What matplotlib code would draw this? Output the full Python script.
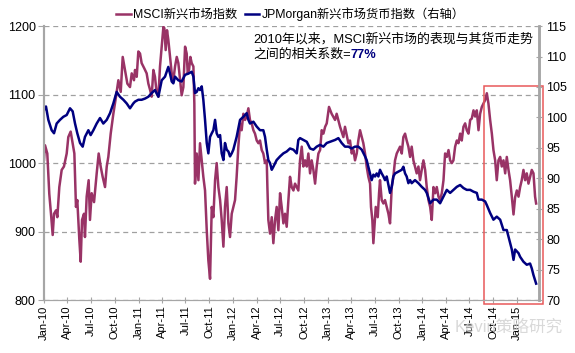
import numpy as np
import pandas as pd
import matplotlib
matplotlib.use("Agg")
import matplotlib.pyplot as plt
import matplotlib.dates as mdates
from matplotlib.patches import Rectangle

plt.rcParams["font.family"] = ["Liberation Sans", "Noto Sans CJK SC", "DejaVu Sans"]

# years since 1 Jan 2010
msci_t = [0.000, 0.011, 0.035, 0.056, 0.074, 0.092, 0.106, 0.127, 0.141, 0.162, 0.187, 0.211,
          0.240, 0.257, 0.282, 0.303, 0.321, 0.338, 0.352, 0.374, 0.388, 0.402, 0.423, 0.433,
          0.451, 0.472, 0.486, 0.504, 0.529, 0.557, 0.578, 0.599, 0.620, 0.645, 0.663, 0.680,
          0.705, 0.733, 0.761, 0.786, 0.811, 0.832, 0.856, 0.881, 0.909, 0.927, 0.951,
          0.962, 0.980, 0.997, 1.015, 1.032, 1.061, 1.085, 1.103, 1.121, 1.138, 1.156, 1.173,
          1.191, 1.209, 1.226, 1.244, 1.262, 1.272, 1.286, 1.300, 1.314, 1.332, 1.350, 1.367,
          1.385, 1.403, 1.420, 1.438, 1.455, 1.473, 1.491, 1.508, 1.519, 1.533, 1.547, 1.561,
          1.579, 1.589, 1.596, 1.614, 1.632, 1.649, 1.667, 1.684, 1.702, 1.720, 1.737, 1.755,
          1.773, 1.790, 1.808, 1.825, 1.843, 1.861, 1.878, 1.896, 1.913, 1.931, 1.949, 1.966,
          1.984, 2.001, 2.019, 2.036, 2.054, 2.072, 2.089, 2.107, 2.125, 2.142, 2.160, 2.177,
          2.195, 2.213, 2.230, 2.248, 2.266, 2.283, 2.301, 2.318, 2.336, 2.354, 2.361, 2.371,
          2.389, 2.407, 2.424, 2.442, 2.459, 2.477, 2.495, 2.512, 2.530, 2.547, 2.565, 2.583,
          2.600, 2.618, 2.636, 2.653, 2.671, 2.688, 2.706, 2.724, 2.741, 2.759, 2.777, 2.794,
          2.812, 2.829, 2.847, 2.865, 2.882, 2.900, 2.918, 2.935, 2.953, 2.971, 2.988, 3.012,
          3.040, 3.076, 3.093, 3.129, 3.164, 3.181, 3.217, 3.234, 3.252, 3.270, 3.287, 3.305,
          3.322, 3.340, 3.358, 3.375, 3.393, 3.410, 3.428, 3.446, 3.456, 3.470, 3.481, 3.492,
          3.506, 3.527, 3.541, 3.551, 3.569, 3.587, 3.604, 3.622, 3.640, 3.657, 3.675, 3.692,
          3.710, 3.728, 3.745, 3.763, 3.781, 3.798, 3.816, 3.833, 3.851, 3.869, 3.886, 3.904,
          3.921, 3.939, 3.957, 3.974, 3.992, 4.010, 4.028, 4.045, 4.063, 4.081, 4.098, 4.116,
          4.134, 4.151, 4.169, 4.186, 4.204, 4.222, 4.239, 4.257, 4.275, 4.292, 4.310, 4.327,
          4.345, 4.363, 4.380, 4.398, 4.415, 4.433, 4.451, 4.468, 4.486, 4.504, 4.521, 4.539,
          4.556, 4.574, 4.592, 4.609, 4.627, 4.644, 4.662, 4.680, 4.697, 4.715, 4.733, 4.750,
          4.768, 4.785, 4.803, 4.821, 4.838, 4.856, 4.874, 4.891, 4.909, 4.926, 4.944, 4.962,
          4.979, 4.997, 5.015, 5.032, 5.049, 5.067, 5.085, 5.102, 5.120, 5.137, 5.155, 5.173,
          5.190, 5.201]
msci_v = [1005, 1026, 1014, 955, 926, 895, 926, 931, 921, 965, 990, 995,
          1014, 1038, 1046, 1029, 1014, 936, 946, 887, 856, 917, 926, 892,
          951, 975, 917, 956, 943, 985, 1014, 995, 980, 965, 995, 1009,
          1043, 1072, 1097, 1121, 1104, 1155, 1136, 1116, 1111, 1131, 1121,
          1136, 1126, 1163, 1160, 1146, 1138, 1131, 1116, 1107, 1097, 1136, 1126,
          1102, 1097, 1141, 1170, 1199, 1197, 1165, 1194, 1180, 1155, 1131, 1121,
          1141, 1155, 1146, 1121, 1099, 1111, 1170, 1160, 1131, 1136, 1155, 1146,
          1141, 1087, 970, 1014, 975, 1029, 1004, 980, 960, 902, 858, 831,
          936, 921, 975, 1000, 965, 946, 917, 878, 936, 965, 912, 892,
          926, 936, 946, 980, 1024, 1058, 1048, 1072, 1063, 1068, 1080, 1063,
          1058, 1048, 1043, 1033, 1029, 1033, 1019, 1014, 1000, 1004, 965, 917,
          897, 921, 883, 917, 936, 902, 956, 936, 912, 926, 907, 946,
          980, 965, 960, 970, 965, 960, 1004, 1024, 995, 1004, 995, 1014,
          985, 1004, 990, 970, 995, 1014, 1019, 1048, 1043, 1053, 1058, 1082,
          1072, 1063, 1072, 1053, 1038, 1053, 1029, 1033, 1014, 1019, 1004, 1014,
          1033, 1048, 1038, 1029, 1014, 995, 980, 970, 936, 917, 883, 907,
          936, 921, 956, 975, 946, 941, 946, 936, 926, 912, 965, 980,
          1004, 1014, 1019, 1024, 1014, 1038, 1043, 1033, 1024, 1009, 1024, 1004,
          995, 985, 995, 975, 990, 1004, 990, 965, 946, 936, 917, 965,
          956, 965, 951, 946, 956, 975, 1014, 1009, 1019, 1004, 1000, 1004,
          1024, 1033, 1029, 1043, 1033, 1053, 1058, 1048, 1043, 1063, 1065, 1077,
          1068, 1077, 1048, 1072, 1082, 1087, 1092, 1102, 1087, 1063, 1043, 1019,
          1004, 975, 1004, 1009, 995, 1004, 985, 1009, 990, 975, 951, 925,
          950, 960, 951, 965, 975, 990, 975, 985, 970, 980, 990, 985,
          951, 941]

jpm_t = [0.000, 0.021, 0.046, 0.081, 0.106, 0.134, 0.169, 0.204, 0.240, 0.275, 0.303, 0.328,
         0.352, 0.381, 0.409, 0.433, 0.469, 0.493, 0.522, 0.557, 0.592, 0.627, 0.663, 0.698,
         0.733, 0.768, 0.803, 0.839, 0.874, 0.909, 0.944, 0.962, 0.997, 1.032, 1.068, 1.103,
         1.138, 1.173, 1.209, 1.244, 1.279, 1.314, 1.332, 1.350, 1.367, 1.385, 1.420, 1.455,
         1.491, 1.526, 1.561, 1.579, 1.596, 1.614, 1.632, 1.649, 1.667, 1.684, 1.702, 1.720,
         1.737, 1.755, 1.773, 1.790, 1.808, 1.825, 1.843, 1.861, 1.878, 1.896, 1.913, 1.931,
         1.949, 1.966, 1.984, 2.001, 2.036, 2.072, 2.107, 2.142, 2.160, 2.177, 2.213, 2.248,
         2.283, 2.318, 2.336, 2.354, 2.371, 2.389, 2.407, 2.424, 2.459, 2.495, 2.530, 2.565,
         2.600, 2.636, 2.671, 2.688, 2.706, 2.741, 2.777, 2.812, 2.847, 2.882, 2.918, 2.953,
         2.988, 3.023, 3.076, 3.111, 3.146, 3.181, 3.217, 3.252, 3.287, 3.322, 3.358, 3.393,
         3.410, 3.428, 3.446, 3.463, 3.481, 3.499, 3.516, 3.534, 3.551, 3.569, 3.587, 3.604,
         3.622, 3.640, 3.657, 3.675, 3.692, 3.710, 3.745, 3.781, 3.798, 3.816, 3.833, 3.851,
         3.869, 3.886, 3.921, 3.957, 3.992, 4.027, 4.045, 4.081, 4.116, 4.151, 4.186, 4.222,
         4.257, 4.292, 4.327, 4.363, 4.398, 4.433, 4.468, 4.504, 4.539, 4.574, 4.592, 4.627,
         4.662, 4.680, 4.715, 4.750, 4.785, 4.821, 4.856, 4.891, 4.909, 4.926, 4.944, 4.962,
         4.979, 5.015, 5.032, 5.067, 5.102, 5.137, 5.155, 5.173, 5.201]
jpm_v = [101.2, 101.8, 99.6, 97.9, 97.4, 99.0, 99.6, 100.1, 100.4, 101.5, 101.0, 99.0,
         97.4, 95.8, 95.2, 96.8, 97.9, 97.1, 97.9, 99.0, 99.9, 99.0, 99.6, 100.7,
         102.3, 104.2, 103.4, 102.9, 102.3, 101.5, 102.3, 102.6, 102.9, 102.9, 103.1, 103.4,
         104.0, 104.5, 103.4, 106.1, 106.7, 108.3, 107.2, 105.9, 105.6, 106.7, 106.1, 105.9,
         107.0, 107.2, 107.5, 106.7, 104.0, 104.2, 104.8, 104.5, 105.1, 102.9, 99.6, 95.8,
         94.1, 96.8, 97.4, 97.9, 99.6, 97.4, 96.8, 97.1, 94.1, 93.0, 95.8, 94.7,
         94.4, 93.6, 94.1, 94.7, 96.8, 99.6, 100.1, 100.7, 99.6, 99.0, 99.3, 98.5,
         97.9, 97.9, 96.8, 94.7, 93.0, 92.5, 91.4, 91.9, 93.0, 93.6, 94.1, 94.4,
         94.9, 94.7, 94.1, 96.3, 96.6, 96.3, 96.0, 94.9, 94.7, 95.2, 95.5, 95.2,
         95.8, 96.0, 96.3, 96.6, 95.8, 95.2, 95.2, 94.9, 95.2, 95.2, 94.7, 93.6,
         93.0, 91.9, 90.8, 89.7, 90.6, 90.3, 90.8, 90.3, 91.4, 90.8, 90.3, 89.7,
         90.3, 88.9, 87.6, 88.6, 90.3, 90.8, 91.1, 91.4, 91.9, 90.8, 90.3, 89.2,
         89.7, 89.2, 89.7, 89.2, 88.6, 88.1, 87.6, 85.9, 86.5, 86.5, 85.9, 87.0,
         88.1, 87.6, 88.1, 88.6, 88.9, 88.4, 88.1, 88.1, 87.8, 87.6, 86.5, 86.5,
         86.2, 85.6, 84.3, 83.2, 83.7, 83.2, 81.5, 81.5, 80.4, 79.3, 78.3, 76.6,
         78.3, 77.7, 77.1, 76.3, 75.8, 76.0, 75.2, 74.1, 72.7]

start = pd.Timestamp("2010-01-01")
end = pd.Timestamp("2015-03-27")
box_start = pd.Timestamp("2014-08-25")


def to_dates(t):
    return start + pd.to_timedelta(np.array(t) * 365.25, unit="D")


msci_color = "#993366"
jpm_color = "#000080"
axis_gray = "#a6a6a6"

fig = plt.figure(figsize=(5.75, 3.53), dpi=100)
ax = fig.add_axes([0.0765, 0.150, 0.861, 0.776])
ax2 = ax.twinx()

l1, = ax.plot(to_dates(msci_t), msci_v, color=msci_color, lw=1.8, label="MSCI新兴市场指数")
l2, = ax2.plot(to_dates(jpm_t), jpm_v, color=jpm_color, lw=1.8, label="JPMorgan新兴市场货币指数（右轴）")

ax.set_ylim(800, 1200)
ax.set_yticks([800, 900, 1000, 1100, 1200])
ax2.set_ylim(70, 115)
ax2.set_yticks(range(70, 116, 5))
ax.set_xlim(start, end)

ax.xaxis.set_major_locator(mdates.MonthLocator(bymonth=[1, 4, 7, 10]))
ax.xaxis.set_major_formatter(mdates.DateFormatter("%b-%y"))
for lab in ax.get_xticklabels():
    lab.set_rotation(90)

ax.grid(axis="y", color="#a0a0a0", ls=(0, (4, 3)), lw=0.9)
ax.set_axisbelow(True)

for a in (ax, ax2):
    a.spines["top"].set_visible(False)
    a.spines["left"].set_color(axis_gray)
    a.spines["right"].set_color(axis_gray)
    a.spines["bottom"].set_color(axis_gray)
    a.spines["left"].set_linewidth(1.5)
    a.spines["right"].set_linewidth(1.8)
ax.tick_params(axis="y", labelsize=9, length=4, color=axis_gray, pad=2)
ax2.tick_params(axis="y", labelsize=9, length=4, color=axis_gray, direction="inout", pad=3)
ax.tick_params(axis="x", labelsize=8, length=4, color=axis_gray, direction="inout", pad=2)

# highlight box around the recent slide
x0 = mdates.date2num(box_start)
x1 = mdates.date2num(start + pd.Timedelta(days=5.275 * 365.25))
ax.add_patch(Rectangle((x0, 794), x1 - x0, 318, fill=False, edgecolor="#e8585a",
                       lw=1.1, clip_on=False, zorder=5))

t1 = ax.text(0.422, 0.977, "2010年以来，MSCI新兴市场的表现与其货币走势",
             transform=ax.transAxes, fontsize=9.3, va="top", ha="left")
t2 = ax.text(0.422, 0.917, "之间的相关系数=", transform=ax.transAxes,
             fontsize=9.3, va="top", ha="left")
ax.annotate("77%", xy=(1, 0), xycoords=t2, va="bottom", ha="left",
            fontsize=9.3, color=jpm_color, fontweight="bold")

fig.legend(handles=[l1, l2], loc="upper center", bbox_to_anchor=(0.505, 1.01), ncol=2,
           frameon=False, fontsize=8.8, handlelength=1.2, handletextpad=0.2,
           columnspacing=0.6)

# faint watermark, sits behind the date labels as in the source
fig.text(0.79, 0.06, "Kevin策略研究", fontsize=12, color="#d0d0d0", alpha=0.8, zorder=0)

fig.savefig("out.png", dpi=100)
